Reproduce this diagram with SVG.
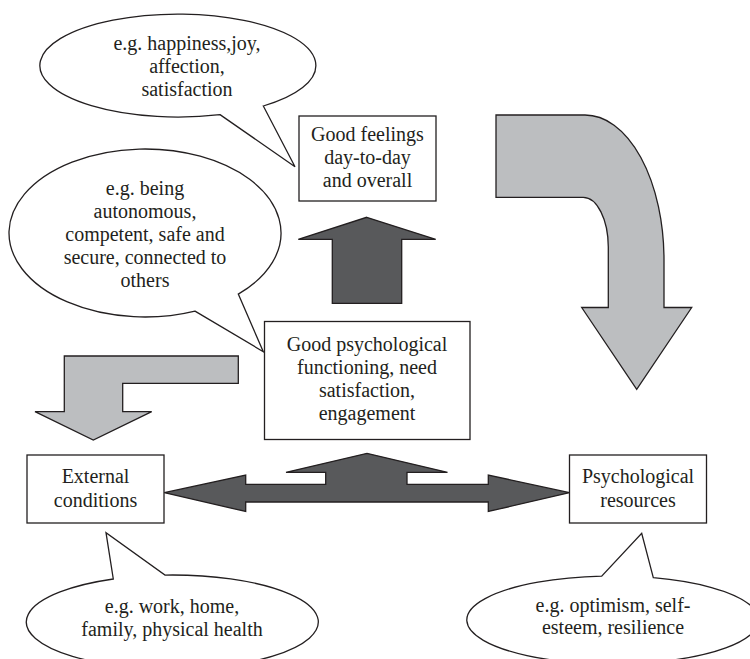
<svg xmlns="http://www.w3.org/2000/svg" width="750" height="659" viewBox="0 0 750 659">
<style>
.box{fill:#fff;stroke:#231f20;stroke-width:1.3}
.call{fill:#fff;stroke:#231f20;stroke-width:1.3;stroke-linejoin:miter}
.light{fill:#bcbec0;stroke:#231f20;stroke-width:1.3;stroke-linejoin:miter}
.dark{fill:#58595b;stroke:#231f20;stroke-width:1.3;stroke-linejoin:miter}
</style>
<rect width="750" height="659" fill="#fff"/>
<g id="connectors">
<path class="light" d="M496,115 L585,115 A79 145 0 0 1 664,260 L664,307.5 L691.7,307.5 L636.7,389.3 L581.7,307.5 L608.3,307.5 L608.3,247 A25 50 0 0 0 583.3,197.3 L496,197.3 Z"/>
<path class="dark" d="M366.7,217.3 L435.7,239.3 L401.7,239.3 L401.7,303.3 L332.3,303.3 L332.3,239.3 L298.3,239.3 Z"/>
<path class="light" d="M64.3,356 L238.3,356 L238.3,383.3 L122.7,383.3 L122.7,411.7 L151.7,411.7 L93.3,440 L35,411.7 L64.3,411.7 Z"/>
<path class="dark" d="M164.3,492.7 L245.7,475 L245.7,484.3 L325.7,484.3 L325.7,472.3 L286,472.3 L367,453.3 L447.5,472.3 L407,472.3 L407,484.3 L488.3,484.3 L488.3,475 L569.5,492.7 L488.3,511.5 L488.3,502 L245.7,502 L245.7,511.5 Z"/>
</g>
<g font-family="Liberation Serif, serif" font-size="20" fill="#231f20" text-anchor="middle">
<g id="callout-feelings">
<path class="call" d="M220,114.6 L295,166.7 L263.3,106 A138 51.5 0 1 0 220,114.6 Z"/>
<text x="187" y="50">e.g. happiness,joy,</text>
<text x="187" y="73">affection,</text>
<text x="187" y="96">satisfaction</text>
</g>
<g id="callout-functioning">
<path class="call" d="M195,311.1 L263.3,351.7 L238.3,294.1 A136 84 0 1 0 195,311.1 Z"/>
<text x="145" y="195">e.g. being</text>
<text x="145" y="218">autonomous,</text>
<text x="145" y="241">competent, safe and</text>
<text x="145" y="264">secure, connected to</text>
<text x="145" y="287">others</text>
</g>
<g id="good-feelings">
<rect class="box" x="299" y="116" width="137" height="85"/>
<text x="367.5" y="141">Good feelings</text>
<text x="367.5" y="164">day-to-day</text>
<text x="367.5" y="187">and overall</text>
</g>
<g id="good-functioning">
<rect class="box" x="264.5" y="321.5" width="205.5" height="118"/>
<text x="367" y="351">Good psychological</text>
<text x="367" y="374">functioning, need</text>
<text x="367" y="397">satisfaction,</text>
<text x="367" y="420">engagement</text>
</g>
<g id="external-conditions">
<rect class="box" x="27" y="455" width="137" height="68"/>
<text x="95.5" y="483">External</text>
<text x="95.5" y="507">conditions</text>
</g>
<g id="psychological-resources">
<rect class="box" x="569.5" y="455" width="137" height="68"/>
<text x="638" y="483">Psychological</text>
<text x="638" y="507">resources</text>
</g>
<g id="callout-external">
<path class="call" d="M113.3,579 L106,532.7 L165,575.05 A146 47 0 1 1 113.3,579 Z"/>
<text x="172" y="613">e.g. work, home,</text>
<text x="172" y="636">family, physical health</text>
</g>
<g id="callout-resources">
<path class="call" d="M653.3,577.7 L641.7,533.3 L601.7,576.1 A146 44 0 1 0 653.3,577.7 Z"/>
<text x="613" y="612">e.g. optimism, self-</text>
<text x="613" y="634">esteem, resilience</text>
</g>
</g>
</svg>
